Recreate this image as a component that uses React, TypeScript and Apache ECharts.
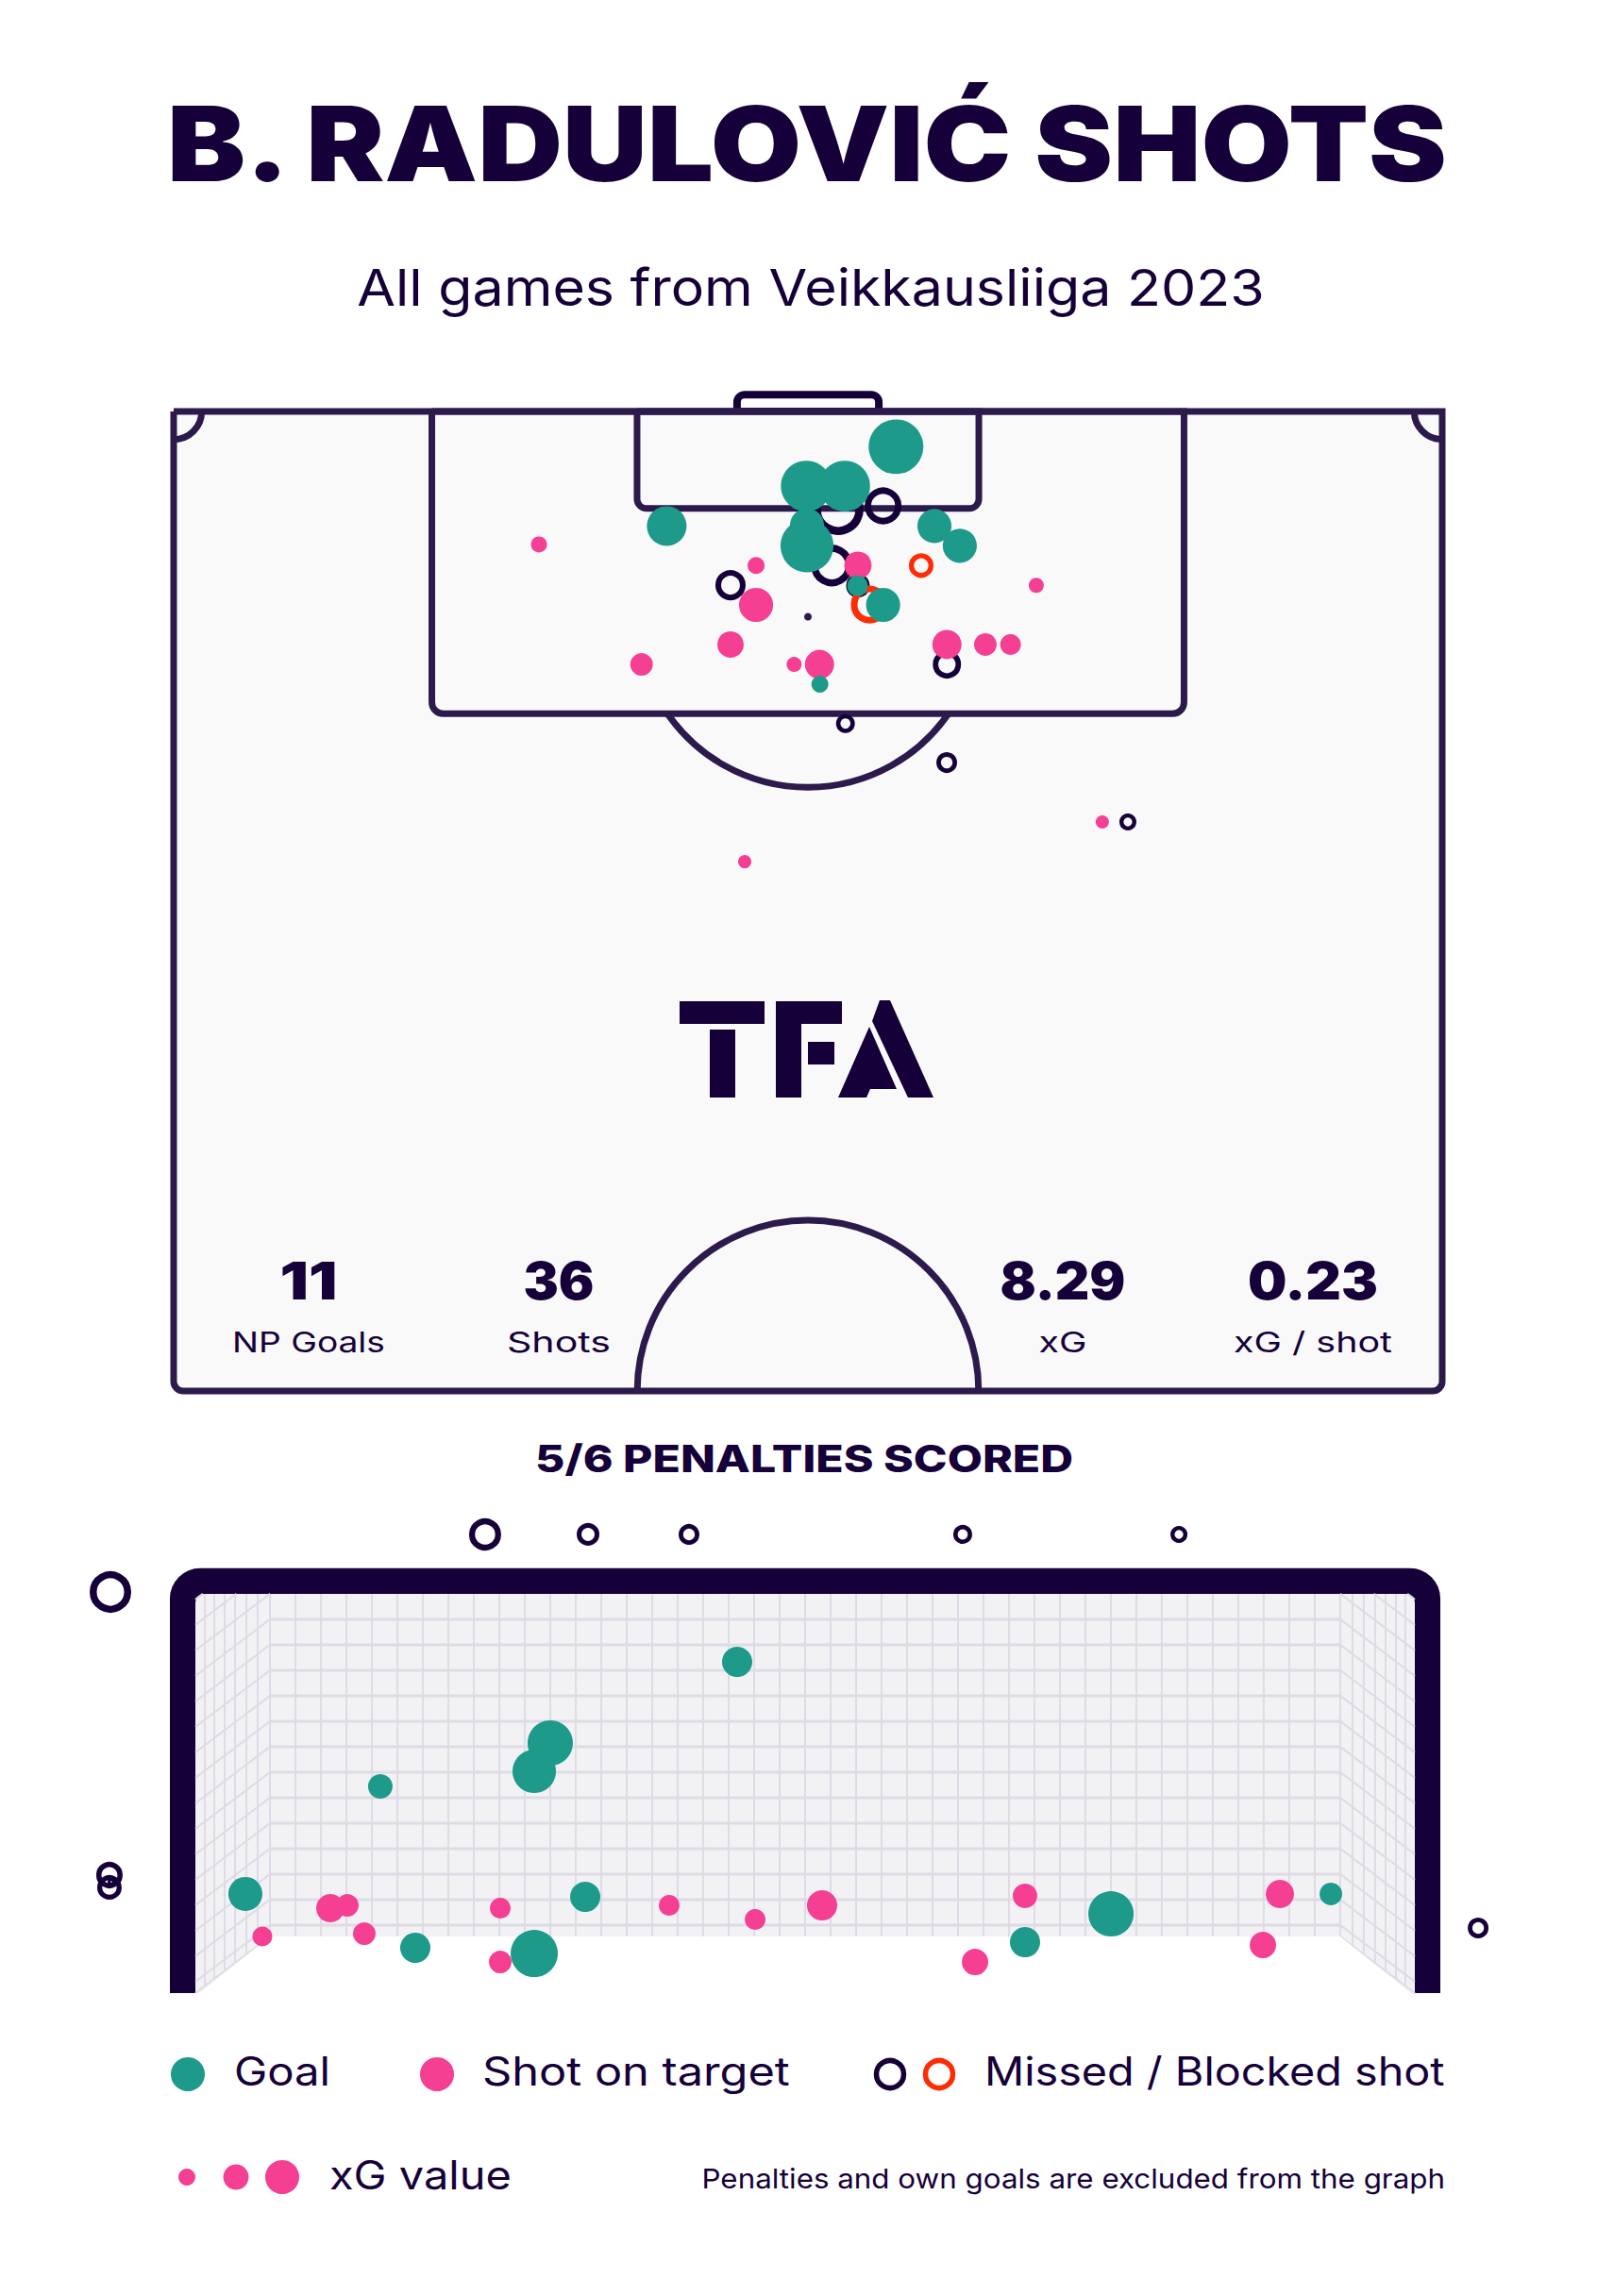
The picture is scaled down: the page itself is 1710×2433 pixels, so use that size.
import React, { useEffect, useRef } from "react";
import * as echarts from "echarts";

const PAGE_W = 1710;
const PAGE_H = 2433;

// ---------- Pitch view (metres: x across from left touchline, y out from goal line) ----------
const pitchGoalX = [38.72, 33.91, 35.97, 26.43, 33.95, 33.95, 40.78, 42.14, 36.66, 38.03, 34.64];
const pitchGoalY = [1.89, 4.0, 4.0, 6.14, 6.11, 7.2, 6.14, 7.2, 9.34, 10.37, 14.62];
const pitchGoalXG = [0.8, 0.69, 0.69, 0.42, 0.31, 0.75, 0.31, 0.31, 0.115, 0.31, 0.077];

const pitchOnTargetX = [31.22, 36.68, 31.22, 29.85, 25.08, 33.26, 34.62, 41.45, 43.51, 44.86, 46.24, 19.58, 30.61, 49.78];
const pitchOnTargetY = [8.26, 8.24, 10.37, 12.49, 13.56, 13.56, 13.56, 12.49, 12.49, 12.49, 9.32, 7.13, 24.13, 22.0];
const pitchOnTargetXG = [0.077, 0.2, 0.31, 0.187, 0.137, 0.061, 0.229, 0.229, 0.137, 0.115, 0.061, 0.069, 0.047, 0.047];

const pitchMissedX = [38.03, 35.62, 35.28, 29.85, 36.68, 41.45, 36.01, 41.44, 51.15];
const pitchMissedY = [5.06, 5.26, 8.26, 9.31, 9.34, 13.56, 16.73, 18.82, 22.0];
const pitchMissedXG = [0.362, 0.69, 0.461, 0.244, 0.149, 0.214, 0.095, 0.115, 0.077];

const pitchBlockedX = [40.07, 37.31];
const pitchBlockedY = [8.26, 10.35];
const pitchBlockedXG = [0.161, 0.381];

// ---------- Goal-mouth view (metres from goal centre, height above ground) ----------
const goalGoalX = [-0.408, -1.53, -1.626, -2.55, -3.36, -1.32, -2.34, -1.626, 1.32, 1.836, 3.156];
const goalGoalY = [2.024, 1.528, 1.355, 1.263, 0.606, 0.588, 0.277, 0.242, 0.311, 0.484, 0.606];
const goalGoalXG = [0.244, 0.549, 0.504, 0.161, 0.309, 0.244, 0.244, 0.595, 0.244, 0.549, 0.137];

const goalOnTargetX = [-3.258, -2.85, -2.748, -2.646, -1.83, -1.83, -0.816, -0.3, 0.102, 1.32, 1.02, 2.85, 2.748];
const goalOnTargetY = [0.346, 0.519, 0.536, 0.363, 0.519, 0.19, 0.536, 0.45, 0.536, 0.594, 0.19, 0.606, 0.294];
const goalOnTargetXG = [0.105, 0.214, 0.137, 0.137, 0.115, 0.137, 0.115, 0.115, 0.244, 0.161, 0.187, 0.214, 0.187];

const goalMissedX = [-1.921, -1.303, -0.697, 0.946, 2.244, -4.17, -4.176, -4.176, -4.165, 4.04];
const goalMissedY = [2.803, 2.803, 2.803, 2.803, 2.803, 2.451, 0.721, 0.646, 0.68, 0.398];
const goalMissedXG = [0.275, 0.137, 0.115, 0.095, 0.077, 0.461, 0.187, 0.161, 0.015, 0.115];

// ---------- Texts ----------
const titleText = "B. RADULOVIĆ SHOTS";
const subtitleText = "All games from Veikkausliiga 2023";
const statValues = ["11", "36", "8.29", "0.23"];
const statLabels = ["NP Goals", "Shots", "xG", "xG / shot"];
const penaltyText = "5/6 PENALTIES SCORED";
const legendLabels = ["Goal", "Shot on target", "Missed / Blocked shot"];
const sizeLegendLabel = "xG value";
const noteText = "Penalties and own goals are excluded from the graph";

// ---------- Styles ----------
const INK = "#160039";
const LINE = "#2c1a4d";
const PITCH = "#f9f9f9";
const TEAL = "#1d9a8a";
const PINK = "#f53f93";
const RED = "#fd2c04";
const NET = "#f2f2f5";
const NET_LINE = "#dedbe5";

const dia = (xg: number) => 64.8 * Math.sqrt(xg);
const ringBW = (xg: number) => 2.2 + 0.12 * dia(xg);

function pts(xs: number[], ys: number[], xg: number[]) {
  return xs.map((x, i) => [x, ys[i], xg[i]]);
}

function fitScale(text: string, font: string, target: number) {
  const ctx = document.createElement("canvas").getContext("2d")!;
  ctx.font = font;
  const w = ctx.measureText(text).width;
  return w > 0 ? target / w : 1;
}

function label(text: string, x: number, y: number, size: number, weight: number, target: number, align: string, color = INK) {
  const family = "Inter";
  const sx = fitScale(text, `${weight} ${size}px ${family}`, target);
  return {
    type: "text",
    x,
    y,
    scaleX: sx,
    z: 10,
    silent: true,
    style: {
      text,
      fontSize: size,
      fontWeight: weight,
      fontFamily: family,
      fill: color,
      align,
      textAlign: align,
      verticalAlign: "middle",
      textVerticalAlign: "middle",
    },
  };
}

function pitchRender(params: any, api: any) {
  const P = (p: number[]) => api.coord(p);
  const lw = 7;
  const ch: any[] = [];
  const stroke = { fill: "none", stroke: LINE, lineWidth: lw };
  const rectOf = (x0: number, y0: number, x1: number, y1: number, r: number[], style: any) => {
    const a = P([x0, y0]);
    const b = P([x1, y1]);
    return {
      type: "rect",
      shape: { x: Math.min(a[0], b[0]), y: Math.min(a[1], b[1]), width: Math.abs(b[0] - a[0]), height: Math.abs(b[1] - a[1]), r },
      style,
    };
  };
  ch.push(rectOf(30.2, -0.9, 37.8, 0, [8, 8, 0, 0], { fill: "none", stroke: INK, lineWidth: 8 }));
  ch.push(rectOf(0, 0, 68, 52.5, [0, 0, 10, 10], { fill: PITCH, stroke: LINE, lineWidth: lw }));
  ch.push(rectOf(13.84, 0, 54.16, 16.2, [0, 0, 12, 12], stroke));
  ch.push(rectOf(24.84, 0, 43.16, 5.2, [0, 0, 10, 10], stroke));
  const spot = P([34, 11]);
  const R = P([34 + 9.15, 11])[0] - spot[0];
  const dy = P([34, 16.2])[1] - spot[1];
  const a = Math.acos(Math.min(1, dy / R));
  ch.push({ type: "arc", shape: { cx: spot[0], cy: spot[1], r: R, startAngle: Math.PI / 2 - a, endAngle: Math.PI / 2 + a, clockwise: true }, style: stroke });
  ch.push({ type: "circle", shape: { cx: spot[0], cy: spot[1], r: 4 }, style: { fill: LINE } });
  const cc = P([34, 52.5]);
  ch.push({ type: "arc", shape: { cx: cc[0], cy: cc[1], r: R, startAngle: Math.PI, endAngle: Math.PI * 2, clockwise: true }, style: stroke });
  const tl = P([0, 0]);
  const tr = P([68, 0]);
  const cr = P([1.5, 0])[0] - tl[0];
  ch.push({ type: "arc", shape: { cx: tl[0], cy: tl[1], r: cr, startAngle: 0, endAngle: Math.PI / 2, clockwise: true }, style: stroke });
  ch.push({ type: "arc", shape: { cx: tr[0], cy: tr[1], r: cr, startAngle: Math.PI / 2, endAngle: Math.PI, clockwise: true }, style: stroke });
  return { type: "group", children: ch };
}

const FX = 3.66;
const TOP = 2.44;
const BX = 3.212;
const BB = 0.346;
const PW = 0.153;
const BW = 0.156;
const ROW = 0.1557;
const DX = FX - BX;
const DY = 0.346;

function goalRender(params: any, api: any) {
  const P = (p: number[]) => api.coord(p);
  const ch: any[] = [];
  const line = (p: number[], q: number[], w: number) => {
    const a = P(p);
    const b = P(q);
    ch.push({ type: "line", shape: { x1: a[0], y1: a[1], x2: b[0], y2: b[1] }, style: { stroke: NET_LINE, lineWidth: w } });
  };
  const o0 = P([-FX - PW, TOP + BW]);
  const o1 = P([FX + PW, 0]);
  ch.push({ type: "rect", shape: { x: o0[0], y: o0[1], width: o1[0] - o0[0], height: o1[1] - o0[1], r: [32, 32, 0, 0] }, style: { fill: INK } });
  const i0 = P([-FX, TOP]);
  const i1 = P([FX, 0]);
  ch.push({ type: "rect", shape: { x: i0[0], y: i0[1], width: i1[0] - i0[0], height: i1[1] - i0[1] + 1, r: [9, 9, 0, 0] }, style: { fill: NET } });
  for (let j = 0; j <= 42; j++) {
    const x = -BX + (j * 2 * BX) / 42;
    line([x, BB], [x, TOP], 2);
  }
  for (let k = 1; k <= 13; k++) {
    const y = TOP - k * ROW;
    line([-BX, y], [BX, y], 3);
  }
  for (const s of [-1, 1]) {
    const rows: number[] = [BB];
    for (let k = -2; k <= 13; k++) rows.push(TOP - k * ROW);
    for (const yb of rows) {
      const fy = yb - DY;
      let bx = s * BX;
      let by = yb;
      if (by > TOP) {
        const t = (TOP - fy) / DY;
        bx = s * (FX - t * DX);
        by = TOP;
      }
      line([s * FX, fy], [bx, by], 2);
    }
    for (const t of [0.127, 0.253, 0.392, 0.532, 0.684, 0.835]) {
      const x = s * (FX - t * DX);
      line([x, t * DY], [x, TOP], 2);
    }
  }
  const f = [P([-FX, -0.02]), P([-BX, BB]), P([BX, BB]), P([FX, -0.02])];
  ch.push({ type: "polygon", shape: { points: f }, style: { fill: "#ffffff" } });
  return { type: "group", children: ch };
}

function ringData(xs: number[], ys: number[], xg: number[]) {
  return xs.map((x, i) => ({ value: [x, ys[i], xg[i]], itemStyle: { borderWidth: ringBW(xg[i]) } }));
}

function buildOption() {
  const ringSize = (v: number[]) => Math.max(2, dia(v[2]) - ringBW(v[2]));
  const fillSize = (v: number[]) => dia(v[2]);
  const scat = (name: string, grid: number, data: any[], color: string, ring: boolean, z: number) => ({
    type: "scatter",
    name,
    xAxisIndex: grid,
    yAxisIndex: grid,
    data,
    z,
    silent: true,
    clip: false,
    symbol: "circle",
    symbolSize: ring ? ringSize : fillSize,
    itemStyle: ring ? { color: "rgba(0,0,0,0)", borderColor: color, opacity: 1 } : { color, borderWidth: 0, opacity: 1 },
    emphasis: { disabled: true },
  });

  const statX = [327, 592, 1126, 1391];
  const statNumW = [61, 75, 133, 138];
  const statLabW = [162, 110, 51, 168];

  const graphics: any[] = [
    label(titleText, 855, 152, 110, 900, 1363, "center"),
    label(subtitleText, 859, 304, 54, 400, 962, "center"),
    label(penaltyText, 852, 1546, 40, 800, 570, "center"),
  ];
  statValues.forEach((v, i) => graphics.push(label(v, statX[i], 1357, 55, 900, statNumW[i], "center")));
  statLabels.forEach((v, i) => graphics.push(label(v, statX[i], 1422, 30, 400, statLabW[i], "center")));

  const logo = { fill: INK };
  graphics.push({ type: "rect", z: 10, silent: true, shape: { x: 720, y: 1061, width: 90, height: 24 }, style: logo });
  graphics.push({ type: "rect", z: 10, silent: true, shape: { x: 752, y: 1091, width: 27, height: 72 }, style: logo });
  graphics.push({ type: "rect", z: 10, silent: true, shape: { x: 822, y: 1061, width: 70, height: 24 }, style: logo });
  graphics.push({ type: "rect", z: 10, silent: true, shape: { x: 822, y: 1061, width: 27, height: 102 }, style: logo });
  graphics.push({ type: "rect", z: 10, silent: true, shape: { x: 856, y: 1104, width: 28, height: 24 }, style: logo });
  graphics.push({ type: "polygon", z: 10, silent: true, shape: { points: [[932, 1060], [943, 1060], [989, 1163], [962, 1163], [924, 1082]] }, style: logo });
  graphics.push({ type: "polygon", z: 10, silent: true, shape: { points: [[921, 1088], [950, 1154], [922, 1154], [918, 1163], [888, 1163]] }, style: logo });

  const ly = 2198;
  graphics.push({ type: "circle", z: 10, silent: true, shape: { cx: 199, cy: ly, r: 18 }, style: { fill: TEAL } });
  graphics.push(label(legendLabels[0], 248, 2195, 42, 400, 102, "left"));
  graphics.push({ type: "circle", z: 10, silent: true, shape: { cx: 463, cy: ly, r: 18 }, style: { fill: PINK } });
  graphics.push(label(legendLabels[1], 511, 2195, 42, 400, 326, "left"));
  graphics.push({ type: "circle", z: 10, silent: true, shape: { cx: 943, cy: ly, r: 14.5 }, style: { fill: "none", stroke: INK, lineWidth: 5.5 } });
  graphics.push({ type: "circle", z: 10, silent: true, shape: { cx: 995, cy: ly, r: 14.5 }, style: { fill: "none", stroke: RED, lineWidth: 5.5 } });
  graphics.push(label(legendLabels[2], 1043, 2195, 42, 400, 488, "left"));
  const sy = 2307;
  graphics.push({ type: "circle", z: 10, silent: true, shape: { cx: 198, cy: sy, r: 9 }, style: { fill: PINK } });
  graphics.push({ type: "circle", z: 10, silent: true, shape: { cx: 250, cy: sy, r: 13.5 }, style: { fill: PINK } });
  graphics.push({ type: "circle", z: 10, silent: true, shape: { cx: 299, cy: sy, r: 18 }, style: { fill: PINK } });
  graphics.push(label(sizeLegendLabel, 349, 2305, 42, 400, 193, "left"));
  graphics.push(label(noteText, 1531, 2308, 29, 400, 788, "right"));

  return {
    animation: false,
    backgroundColor: "#ffffff",
    grid: [
      { left: 184, top: 436, width: 1344, height: 1038 },
      { left: 58.75, top: 1591.8, width: 1588.5, height: 520.2 },
    ],
    xAxis: [
      { gridIndex: 0, type: "value", min: 0, max: 68, show: false },
      { gridIndex: 1, type: "value", min: -4.5, max: 4.5, show: false },
    ],
    yAxis: [
      { gridIndex: 0, type: "value", min: 0, max: 52.5, inverse: true, show: false },
      { gridIndex: 1, type: "value", min: 0, max: 3, show: false },
    ],
    graphic: { elements: graphics },
    series: [
      { type: "custom", xAxisIndex: 0, yAxisIndex: 0, data: [[0, 0]], renderItem: pitchRender, z: 1, silent: true, clip: false },
      scat("pitchMissed", 0, ringData(pitchMissedX, pitchMissedY, pitchMissedXG), INK, true, 2),
      scat("pitchBlocked", 0, ringData(pitchBlockedX, pitchBlockedY, pitchBlockedXG), RED, true, 2),
      scat("pitchOnTarget", 0, pts(pitchOnTargetX, pitchOnTargetY, pitchOnTargetXG), PINK, false, 3),
      scat("pitchGoal", 0, pts(pitchGoalX, pitchGoalY, pitchGoalXG), TEAL, false, 4),
      { type: "custom", xAxisIndex: 1, yAxisIndex: 1, data: [[0, 0]], renderItem: goalRender, z: 1, silent: true, clip: false },
      scat("goalMissed", 1, ringData(goalMissedX, goalMissedY, goalMissedXG), INK, true, 2),
      scat("goalOnTarget", 1, pts(goalOnTargetX, goalOnTargetY, goalOnTargetXG), PINK, false, 3),
      scat("goalGoal", 1, pts(goalGoalX, goalGoalY, goalGoalXG), TEAL, false, 4),
    ],
  };
}

export default function App() {
  const ref = useRef<HTMLDivElement>(null);
  useEffect(() => {
    const chart = echarts.init(ref.current!, undefined, { renderer: "svg", width: PAGE_W, height: PAGE_H });
    chart.setOption(buildOption() as any);
    return () => chart.dispose();
  }, []);
  return (
    <div
      ref={ref}
      style={{ position: "absolute", left: 0, top: 0, width: PAGE_W, height: PAGE_H, background: "#ffffff" }}
    />
  );
}
